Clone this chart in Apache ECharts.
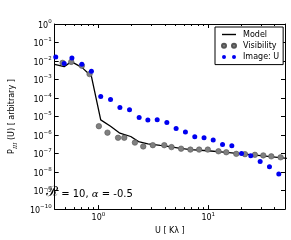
<!DOCTYPE html>
<html>
<head>
<meta charset="utf-8">
<script src="https://cdn.jsdelivr.net/npm/echarts@6/dist/echarts.min.js"></script>
<style>
html,body{margin:0;padding:0;background:#fff;}
#c{width:291px;height:240px;}
</style>
</head>
<body>
<div id="c"></div>
<script>
// ---- data ----
const modelU = [0.4, 0.488, 0.566, 0.707, 0.864, 1.05, 1.29, 1.57, 1.73, 1.97, 2.32, 2.82, 3.66, 4.17, 5.41, 6.88, 9.91, 14.6, 21.6, 31.7, 52];
const modelP = [6.5e-3, 4.93e-3, 9.3e-3, 4.53e-3, 1.49e-3, 6.58e-6, 3.01e-6, 1.26e-6, 1.06e-6, 8.36e-7, 4.43e-7, 3.36e-7, 2.74e-7, 2.52e-7, 1.98e-7, 1.62e-7, 1.42e-7, 1.15e-7, 9.3e-8, 7.5e-8, 5.5e-8];

const visU = [0.472, 0.566, 0.707, 0.831, 1.01, 1.21, 1.51, 1.72, 2.15, 2.56, 3.13, 3.98, 4.63, 5.66, 6.88, 8.26, 9.91, 12.4, 14.6, 18.0, 21.6, 26.6, 31.7, 37.5, 45.6];
const visP = [7.96e-3, 8.97e-3, 5.56e-3, 1.96e-3, 3.01e-6, 1.35e-6, 7.15e-7, 7.15e-7, 3.92e-7, 2.43e-7, 2.84e-7, 2.84e-7, 2.23e-7, 1.84e-7, 1.64e-7, 1.64e-7, 1.64e-7, 1.33e-7, 1.18e-7, 9.64e-8, 9.31e-8, 8.56e-8, 7.96e-8, 7.06e-8, 6.27e-8];

const imgU = [0.409, 0.488, 0.574, 0.707, 0.864, 1.05, 1.29, 1.57, 1.92, 2.35, 2.82, 3.43, 4.20, 5.10, 6.20, 7.54, 9.16, 11.1, 13.5, 16.4, 20.1, 24.4, 29.7, 36.1, 43.9];
const imgP = [1.64e-2, 7.32e-3, 1.45e-2, 6.73e-3, 2.80e-3, 1.20e-4, 8.36e-5, 3.13e-5, 2.32e-5, 8.87e-6, 6.42e-6, 6.81e-6, 4.70e-6, 2.29e-6, 1.47e-6, 8.06e-7, 7.15e-7, 5.42e-7, 3.09e-7, 2.64e-7, 1.01e-7, 7.59e-8, 3.70e-8, 1.96e-8, 7.78e-9];

const seriesNames = ['Model', 'Visibility', 'Image: U'];
const xMinorTicks = [0.5, 0.6, 0.7, 0.8, 0.9, 2, 3, 4, 5, 6, 7, 8, 9, 20, 30, 40, 50];
const annotationParts = ['\u211B', ' = 10, ', '\u03B1', ' = -0.5'];
const xName = 'U [ K\u03BB ]';

const X_MIN = 0.4, X_MAX = 50, Y_MIN = 1e-10, Y_MAX = 1;

const zip = (a, b) => a.map((v, i) => [v, b[i]]);

function powLabel(v) {
  const e = Math.log10(v);
  const r = Math.round(e);
  if (Math.abs(e - r) > 1e-6) return '';
  const s = r < 0 ? '\u2212' + Math.abs(r) : String(r);
  return '{b|10}{s|' + s + '}';
}
const FONT = 'DejaVu Sans';
const labelRich = {
  b: {fontSize: 8, fontFamily: FONT, color: '#000', verticalAlign: 'bottom', lineHeight: 11},
  s: {fontSize: 5.5, fontFamily: FONT, color: '#000', verticalAlign: 'top', lineHeight: 11}
};

const chart = echarts.init(document.getElementById('c'), null, {renderer: 'canvas'});

const axisLineStyle = {show: true, lineStyle: {color: '#000', width: 1}};
const xBase = {type: 'log', logBase: 10, min: X_MIN, max: X_MAX, splitLine: {show: false}, axisLine: axisLineStyle,
  axisTick: {show: true, inside: true, length: 4, lineStyle: {color: '#000', width: 1}}};
const yBase = {type: 'log', logBase: 10, min: Y_MIN, max: Y_MAX, interval: 1, splitLine: {show: false}, axisLine: axisLineStyle,
  axisTick: {show: true, inside: true, length: 4, lineStyle: {color: '#000', width: 1}}};

const twoDots = 'path://M0,2a2,2 0 1,0 4,0a2,2 0 1,0 -4,0zM10,2a2,2 0 1,0 4,0a2,2 0 1,0 -4,0z';

const option = {
  backgroundColor: '#fff',
  animation: false,
  grid: {left: 37, right: 6, top: 24, bottom: 24, containLabel: false},
  xAxis: [
    Object.assign({}, xBase, {
      position: 'bottom',
      name: xName, nameLocation: 'middle', nameGap: 8,
      nameTextStyle: {fontSize: 8, fontFamily: FONT, color: '#000'},
      axisLabel: {show: true, margin: 2, formatter: powLabel, rich: labelRich, showMinLabel: false, showMaxLabel: false}
    }),
    Object.assign({}, xBase, {position: 'top', axisLabel: {show: false}})
  ],
  yAxis: [
    Object.assign({}, yBase, {
      position: 'left',
      name: '{p|P}{sub|III}{p| (U) [ arbitrary ]}', nameLocation: 'middle', nameGap: 23,
      nameTextStyle: {
        fontSize: 8, fontFamily: FONT, color: '#000',
        rich: {
          p: {fontSize: 8, fontFamily: FONT, color: '#000', verticalAlign: 'top', lineHeight: 11},
          sub: {fontSize: 5.5, fontFamily: 'DejaVu Serif', fontStyle: 'italic', color: '#000', verticalAlign: 'bottom', lineHeight: 11}
        }
      },
      axisLabel: {show: true, margin: 3, formatter: powLabel, rich: labelRich}
    }),
    Object.assign({}, yBase, {position: 'right', axisLabel: {show: false}})
  ],
  legend: {
    orient: 'vertical', left: 215, top: 27,
    padding: [3.5, 4, 3.5, 6], itemGap: 3.3, itemWidth: 14, itemHeight: 8,
    backgroundColor: '#fff', borderColor: '#000', borderWidth: 1, borderRadius: 0,
    textStyle: {fontSize: 8, fontFamily: FONT, color: '#000', padding: [0, 0, 0, 2]},
    data: [
      {name: seriesNames[0], icon: 'path://M0,0H14V1.4H0z'},
      {name: seriesNames[1], icon: twoDots},
      {name: seriesNames[2], icon: twoDots}
    ]
  },
  graphic: [{
    type: 'text', left: 46, top: 185,
    style: {
      text: '{r|' + annotationParts[0] + '}{t|' + annotationParts[1] + '}{a|' + annotationParts[2] + '}{t|' + annotationParts[3] + '}',
      rich: {
        r: {fontSize: 14, fontFamily: 'DejaVu Serif', fill: '#000', verticalAlign: 'bottom', lineHeight: 13},
        t: {fontSize: 10, fontFamily: FONT, fill: '#000', verticalAlign: 'bottom', lineHeight: 13},
        a: {fontSize: 10, fontFamily: 'DejaVu Serif', fontStyle: 'italic', fill: '#000', verticalAlign: 'bottom', lineHeight: 13}
      }
    }
  }],
  series: [
    {
      name: seriesNames[0], type: 'line', data: zip(modelU, modelP),
      showSymbol: false, symbol: 'none', lineStyle: {color: '#000', width: 1.3}, itemStyle: {color: '#000'},
      z: 2
    },
    {
      name: seriesNames[1], type: 'scatter', data: zip(visU, visP),
      symbol: 'circle', symbolSize: 5.5,
      itemStyle: {color: '#808080', borderColor: '#555', borderWidth: 0.6, opacity: 1},
      z: 3
    },
    {
      name: seriesNames[2], type: 'scatter', data: zip(imgU, imgP),
      symbol: 'circle', symbolSize: 5,
      itemStyle: {color: '#0000f0', opacity: 1},
      z: 4
    },
    {
      type: 'custom', silent: true, clip: false, z: 5,
      data: xMinorTicks.map(v => [v, 1e-5]),
      renderItem: function (params, api) {
        const v = api.value(0);
        const b = api.coord([v, Y_MIN]);
        const t = api.coord([v, Y_MAX]);
        const x = Math.round(b[0]) + 0.5;
        return {
          type: 'group',
          children: [
            {type: 'line', shape: {x1: x, y1: b[1], x2: x, y2: b[1] - 2}, style: {stroke: '#000', lineWidth: 1}},
            {type: 'line', shape: {x1: x, y1: t[1], x2: x, y2: t[1] + 2}, style: {stroke: '#000', lineWidth: 1}}
          ]
        };
      }
    }
  ]
};
chart.setOption(option);
</script>
</body>
</html>
